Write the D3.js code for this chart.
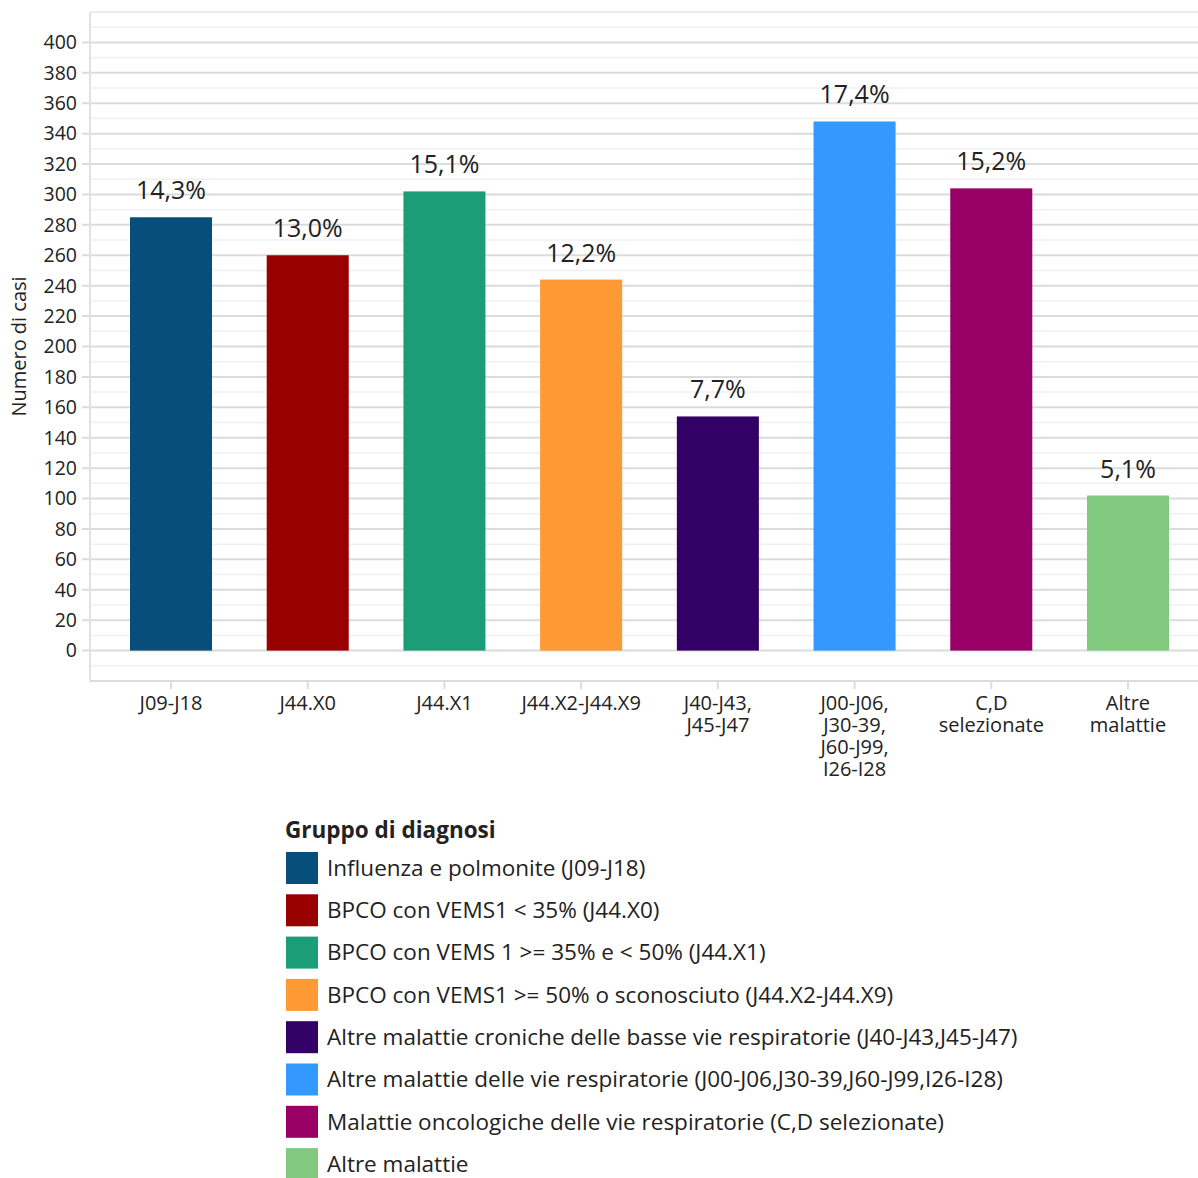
<!DOCTYPE html>
<html>
<head>
<meta charset="utf-8">
<script src="https://cdn.jsdelivr.net/npm/d3@7"></script>
<style>
  body { margin: 0; background: #fff; }
  text { font-family: "Open Sans", "Noto Sans", sans-serif; fill: #222; }
</style>
</head>
<body>
<script>
const categories = ["J09-J18", "J44.X0", "J44.X1", "J44.X2-J44.X9", "J40-J43,\nJ45-J47",
  "J00-J06,\nJ30-39,\nJ60-J99,\nI26-I28", "C,D\nselezionate", "Altre\nmalattie"];
const values = [285, 260, 302, 244, 154, 348, 304, 102];
const pctLabels = ["14,3%", "13,0%", "15,1%", "12,2%", "7,7%", "17,4%", "15,2%", "5,1%"];
const colors = ["#074f7a", "#990000", "#1b9e77", "#ff9933", "#330066", "#3399ff", "#990066", "#80c97f"];
const legendLabels = [
  "Influenza e polmonite (J09-J18)",
  "BPCO con VEMS1 < 35% (J44.X0)",
  "BPCO con VEMS 1 >= 35% e < 50% (J44.X1)",
  "BPCO con VEMS1 >= 50% o sconosciuto (J44.X2-J44.X9)",
  "Altre malattie croniche delle basse vie respiratorie (J40-J43,J45-J47)",
  "Altre malattie delle vie respiratorie (J00-J06,J30-39,J60-J99,I26-I28)",
  "Malattie oncologiche delle vie respiratorie (C,D selezionate)",
  "Altre malattie"
];
const yTicks = d3.range(0, 401, 20);

const width = 1198, height = 1178;
const plotLeft = 90, plotRight = 1198, plotTop = 12, plotBottom = 681;

const svg = d3.select("body").append("svg")
  .attr("width", width)
  .attr("height", height);

const y = d3.scaleLinear().domain([-20, 420]).range([plotBottom, plotTop]);
const x = d3.scaleBand().domain(categories).range([130, 1169]).paddingInner(0.4).paddingOuter(0);

// minor gridlines
svg.append("g").selectAll("line")
  .data(d3.range(-10, 420, 20))
  .join("line")
  .attr("x1", plotLeft).attr("x2", plotRight)
  .attr("y1", d => y(d)).attr("y2", d => y(d))
  .attr("stroke", "#f0f0f0").attr("stroke-width", 1.5);

// major gridlines + ticks
svg.append("g").selectAll("line")
  .data(yTicks)
  .join("line")
  .attr("x1", plotLeft - 8).attr("x2", plotRight)
  .attr("y1", d => y(d)).attr("y2", d => y(d))
  .attr("stroke", "#dcdcdc").attr("stroke-width", 2);

// plot border (top, left, bottom)
svg.append("line").attr("x1", plotLeft).attr("x2", plotRight)
  .attr("y1", plotTop).attr("y2", plotTop).attr("stroke", "#e6e6e6").attr("stroke-width", 1.5);
svg.append("line").attr("x1", plotLeft).attr("x2", plotRight)
  .attr("y1", plotBottom).attr("y2", plotBottom).attr("stroke", "#dcdcdc").attr("stroke-width", 2);
svg.append("line").attr("x1", plotLeft).attr("x2", plotLeft)
  .attr("y1", plotTop).attr("y2", plotBottom).attr("stroke", "#e2e2e2").attr("stroke-width", 2);

// y tick labels
svg.append("g").selectAll("text")
  .data(yTicks)
  .join("text")
  .attr("x", 77).attr("y", d => y(d))
  .attr("dy", "0.35em")
  .attr("text-anchor", "end")
  .attr("font-size", 19.5)
  .text(d => d);

svg.append("text")
  .attr("transform", `translate(26, ${y(200)}) rotate(-90)`)
  .attr("text-anchor", "middle")
  .attr("font-size", 20)
  .text("Numero di casi");

// bars
svg.append("g").selectAll("rect")
  .data(values)
  .join("rect")
  .attr("x", (d, i) => x(categories[i]))
  .attr("y", d => y(d))
  .attr("width", x.bandwidth())
  .attr("height", d => y(0) - y(d))
  .attr("fill", (d, i) => colors[i]);

// value labels
svg.append("g").selectAll("text")
  .data(values)
  .join("text")
  .attr("x", (d, i) => x(categories[i]) + x.bandwidth() / 2)
  .attr("y", d => y(d) - 18)
  .attr("text-anchor", "middle")
  .attr("font-size", 25)
  .text((d, i) => pctLabels[i]);

// x ticks and labels
const xg = svg.append("g");
categories.forEach(c => {
  const cx = x(c) + x.bandwidth() / 2;
  xg.append("line").attr("x1", cx).attr("x2", cx)
    .attr("y1", plotBottom).attr("y2", plotBottom + 8)
    .attr("stroke", "#dcdcdc").attr("stroke-width", 2);
  const t = xg.append("text").attr("text-anchor", "middle").attr("font-size", 20);
  c.split("\n").forEach((line, k) => {
    t.append("tspan").attr("x", cx).attr("y", 710 + k * 22).text(line);
  });
});

// legend
const lg = svg.append("g").attr("transform", "translate(285, 0)");
lg.append("text").attr("x", 0).attr("y", 838)
  .attr("font-size", 22.5).attr("font-weight", "bold")
  .text("Gruppo di diagnosi");
legendLabels.forEach((lab, i) => {
  const yy = 852 + i * 42.3;
  lg.append("rect").attr("x", 1).attr("y", yy)
    .attr("width", 32).attr("height", 32).attr("fill", colors[i]);
  lg.append("text").attr("x", 42).attr("y", yy + 16).attr("dy", "0.35em")
    .attr("font-size", 22.5).text(lab);
});
</script>
</body>
</html>
